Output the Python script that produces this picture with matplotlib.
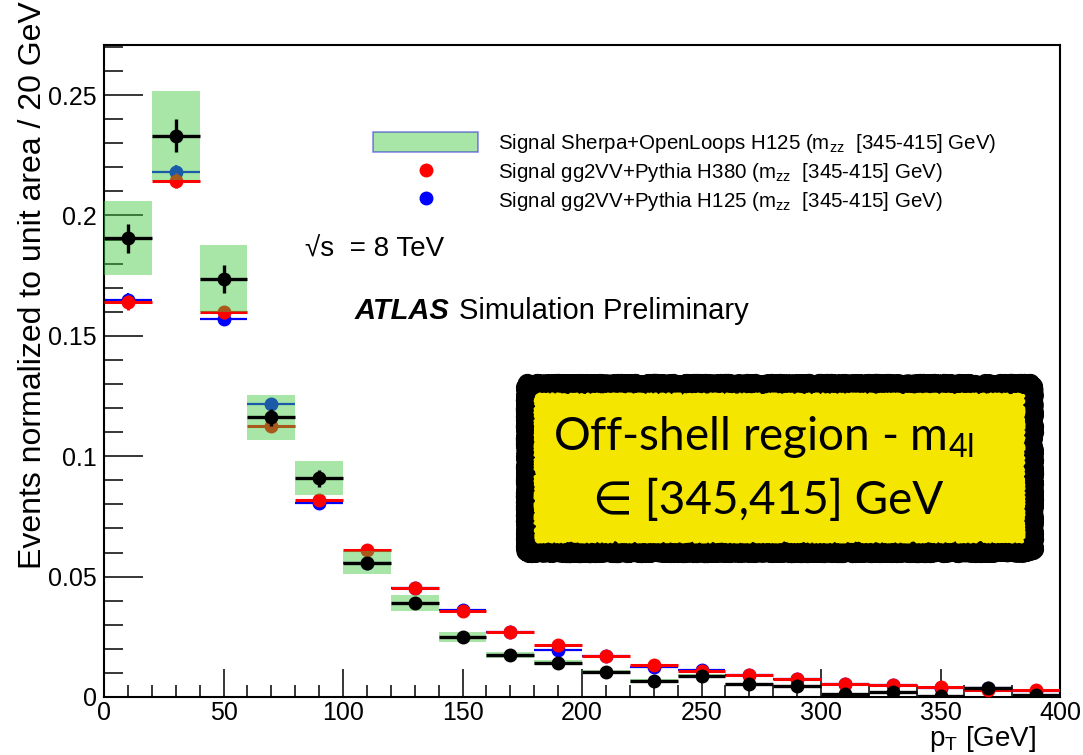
import numpy as np
import matplotlib
matplotlib.use("Agg")
import matplotlib.pyplot as plt
from matplotlib.patches import Rectangle, Patch
from matplotlib.lines import Line2D
from matplotlib.ticker import MultipleLocator, FuncFormatter

plt.rcParams['font.family'] = ['Liberation Sans', 'DejaVu Sans']

# pT bins of 20 GeV
bin_centers = np.arange(10, 400, 20)
bin_halfwidth = 10

# Sherpa+OpenLoops H125 (black points, green band = systematic)
sherpa = [0.1905, 0.2332, 0.1737, 0.1161, 0.0908, 0.0558, 0.0389, 0.0248, 0.0174, 0.0143,
          0.0104, 0.0066, 0.0088, 0.0053, 0.0046, 0.0013, 0.0022, 0.0003, 0.0037, 0.0009]
sherpa_stat = [0.0060, 0.0067, 0.0058, 0.0035, 0.0035, 0.0020, 0.0015, 0.0010, 0.0008, 0.0008,
               0.0008, 0.0008, 0.0008, 0.0008, 0.0008, 0.0008, 0.0008, 0.0008, 0.0008, 0.0008]
sherpa_band = [0.0154, 0.0185, 0.0139, 0.0095, 0.0071, 0.0047, 0.0033, 0.0020, 0.0014, 0.0012,
               0.0010, 0.0008, 0.0006, 0.0005, 0.0005, 0.0004, 0.0004, 0.0003, 0.0003, 0.0003]

# gg2VV+Pythia H380 (red)
gg2vv_h380 = [0.1639, 0.2145, 0.1597, 0.1125, 0.0820, 0.0610, 0.0454, 0.0357, 0.0270, 0.0216,
              0.0172, 0.0131, 0.0107, 0.0091, 0.0073, 0.0056, 0.0048, 0.0043, 0.0030, 0.0027]
# gg2VV+Pythia H125 (blue)
gg2vv_h125 = [0.1649, 0.2181, 0.1570, 0.1215, 0.0806, 0.0555, 0.0454, 0.0360, 0.0272, 0.0196,
              0.0170, 0.0124, 0.0112, 0.0090, 0.0074, 0.0055, 0.0050, 0.0037, 0.0036, 0.0026]
gg2vv_err = [0.0030, 0.0030, 0.0025, 0.0020, 0.0015, 0.0010, 0.0008, 0.0006, 0.0005, 0.0005,
             0.0004, 0.0004, 0.0003, 0.0003, 0.0003, 0.0003, 0.0003, 0.0003, 0.0003, 0.0003]

W, H = 1083, 755
fig = plt.figure(figsize=(W / 100, H / 100), dpi=100)
ax = fig.add_axes([104 / W, 58 / H, 956 / W, 652 / H])

ax.errorbar(bin_centers, gg2vv_h125, xerr=bin_halfwidth, yerr=gg2vv_err, fmt='o', color='#0000ff',
            ms=9, elinewidth=1.6, capsize=0, zorder=2)
ax.errorbar(bin_centers, gg2vv_h380, xerr=bin_halfwidth, yerr=gg2vv_err, fmt='o', color='#ff0000',
            ms=9, elinewidth=2.2, capsize=0, zorder=3)

band = np.array(sherpa_band)
ax.bar(bin_centers, 2 * band, bottom=np.array(sherpa) - band, width=2 * bin_halfwidth,
       color='#3cc83c', alpha=0.45, linewidth=0, zorder=4)
ax.errorbar(bin_centers, sherpa, xerr=bin_halfwidth, yerr=sherpa_stat, fmt='o', color='black',
            ms=9, elinewidth=2.4, capsize=0, zorder=5)

ax.set_xlim(0, 400)
ax.set_ylim(0, 0.2708)
ax.xaxis.set_major_locator(MultipleLocator(50))
ax.xaxis.set_minor_locator(MultipleLocator(10))
ax.yaxis.set_major_locator(MultipleLocator(0.05))
ax.yaxis.set_minor_locator(MultipleLocator(0.01))
ax.yaxis.set_major_formatter(FuncFormatter(lambda v, p: '%g' % round(v, 3)))
ax.tick_params(axis='both', which='both', direction='in', top=False, right=False,
               width=1.1, labelsize=18)
ax.tick_params(axis='x', which='major', length=20, pad=3)
ax.tick_params(axis='x', which='minor', length=9)
ax.tick_params(axis='y', which='major', length=28, pad=5)
ax.tick_params(axis='y', which='minor', length=14)
for s in ax.spines.values():
    s.set_linewidth(1.5)

fig.text(33 / W, 1 - 1 / H, 'Events normalized to unit area / 20 GeV', rotation=90,
         ha='center', va='top', fontsize=23)
fig.text(1036 / W, 1 - 746 / H, r'$\mathregular{p_T}$ [GeV]', ha='right', va='baseline',
         fontsize=20)

# legend
handles = [Patch(facecolor='#3cc83c', alpha=0.45, edgecolor='#0000cc', linewidth=1.2),
           Line2D([], [], ls='none', marker='o', color='#ff0000', ms=9),
           Line2D([], [], ls='none', marker='o', color='#0000ff', ms=9)]
labels = [r'Signal Sherpa+OpenLoops H125 (m$\mathregular{_{zz}}$  [345-415] GeV)',
          r'Signal gg2VV+Pythia H380 (m$\mathregular{_{zz}}$  [345-415] GeV)',
          r'Signal gg2VV+Pythia H125 (m$\mathregular{_{zz}}$  [345-415] GeV)']
fig.legend(handles, labels, loc='upper left', bbox_to_anchor=(363 / W, 1 - 122 / H),
           frameon=False, fontsize=14.8, handlelength=5.1, handleheight=1.1,
           handletextpad=0.95, labelspacing=0.28, borderpad=0)

fig.text(305 / W, 1 - 250 / H, '√s  = 8 TeV', ha='left', va='center', fontsize=20)
fig.text(355 / W, 1 - 311 / H, 'ATLAS', ha='left', va='center', fontsize=21,
         fontweight='bold', fontstyle='italic')
fig.text(459 / W, 1 - 311 / H, 'Simulation Preliminary', ha='left', va='center', fontsize=21)

# yellow label box with rough black border
border = Rectangle((527 / W, 1 - 551 / H), 505 / W, 166 / H, transform=fig.transFigure,
                   facecolor='black', edgecolor='black', linewidth=14, joinstyle='round',
                   zorder=10)
border.set_sketch_params(scale=2.0, length=2.5, randomness=3)
fig.add_artist(border)
inner = Rectangle((537 / W, 1 - 540 / H), 485 / W, 144 / H, transform=fig.transFigure,
                  facecolor='#f5e600', edgecolor='#f5e600', linewidth=3, joinstyle='round',
                  zorder=10.5)
inner.set_sketch_params(scale=1.5, length=2, randomness=2)
fig.add_artist(inner)
fig.text(763 / W, 1 - 437 / H, r'Off-shell region - m$\mathregular{_{4l}}$', ha='center',
         va='center', fontsize=33, family=['Lato', 'DejaVu Sans'], zorder=11)
fig.text(768 / W, 1 - 500 / H, '∈ [345,415] GeV', ha='center', va='center', fontsize=33,
         family=['Lato', 'DejaVu Sans'], zorder=11)

fig.savefig('out.png', dpi=100)
